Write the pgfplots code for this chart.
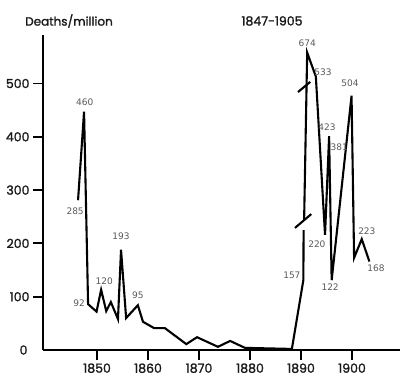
\documentclass[border=0pt]{standalone}
\usepackage{fontspec}
\setmainfont{Poppins}[BoldFont=Poppins, BoldFeatures={FakeBold=1.5}]
\newfontfamily\lblfont{DejaVu Sans}
\usepackage{pgfplots}
\pgfplotsset{compat=1.18}
\begin{document}
\begin{tikzpicture}[x=1pt,y=1pt]
\useasboundingbox (-43,-40) rectangle (370,350);
\begin{axis}[
  at={(0,0)}, anchor=south west,
  scale only axis, width=357pt, height=315pt,
  xmin=1839.4, xmax=1909.4, ymin=0, ymax=591,
  axis x line*=bottom, axis y line*=left,
  axis line style={line width=2.2pt, black},
  xtick={1850,1860,...,1900}, ytick={100,200,...,500},
  tick align=outside, major tick length=10pt,
  tick style={line width=1.8pt, black},
  tick label style={font=\bfseries\fontsize{12.5}{12.5}\selectfont, text=black!90},
  /pgf/number format/assume math mode=true,
  xticklabel style={/pgf/number format/1000 sep={}},
  extra y ticks={0},
  extra y tick style={major tick length=0pt, yticklabel style={xshift=-12pt}},
  clip=false,
]
% lower scale part
\addplot[line width=2.1pt, black, mark=none] coordinates {
 (1846.27,281) (1847.45,447) (1848.24,86) (1849.9,72) (1850.8,113)
 (1851.8,73) (1852.7,90) (1854.1,58) (1854.7,188) (1855.7,60)
 (1858.0,84) (1859.0,53) (1861.2,41) (1863.3,41) (1867.5,11)
 (1869.6,24) (1873.7,6) (1876.1,17) (1879.0,4) (1888.2,2)
 (1890.45,131) (1890.5,225)
};
% upper (broken) scale part
\addplot[line width=2.1pt, black, mark=none] coordinates {
 (1890.6,244) (1891.2,558) (1892.9,513) (1894.7,216) (1895.5,401)
 (1896.0,131) (1899.9,477) (1900.4,173) (1901.9,208) (1903.4,166)
};
% break marks
\addplot[line width=2.1pt, black, mark=none] coordinates {(1888.8,229) (1892.0,255)};
\addplot[line width=2.1pt, black, mark=none] coordinates {(1889.4,484) (1891.8,503)};
% value labels
\begin{scope}[every node/.style={font=\lblfont\fontsize{9}{9}\selectfont, text=black!65, inner sep=0pt}]
\node at (axis cs:1847.6,465) {460};
\node at (axis cs:1845.7,261) {285};
\node at (axis cs:1846.5,88) {92};
\node at (axis cs:1851.4,129) {120};
\node at (axis cs:1854.7,214) {193};
\node at (axis cs:1858.0,103) {95};
\node at (axis cs:1891.2,576) {674};
\node at (axis cs:1894.3,522) {533};
\node at (axis cs:1895.1,418) {423};
\node at (axis cs:1897.5,381) {381};
\node at (axis cs:1899.6,501) {504};
\node at (axis cs:1893.1,199) {220};
\node at (axis cs:1888.2,141) {157};
\node at (axis cs:1895.7,118) {122};
\node at (axis cs:1902.9,223) {223};
\node at (axis cs:1904.7,154) {168};
\end{scope}
\end{axis}
\node[font=\bfseries\fontsize{12}{12}\selectfont, text=black!90] at (26,329) {Deaths/million};
\node[font=\bfseries\fontsize{12.5}{12.5}\selectfont, text=black!90] at (229,329) {1847-1905};
\end{tikzpicture}
\end{document}
